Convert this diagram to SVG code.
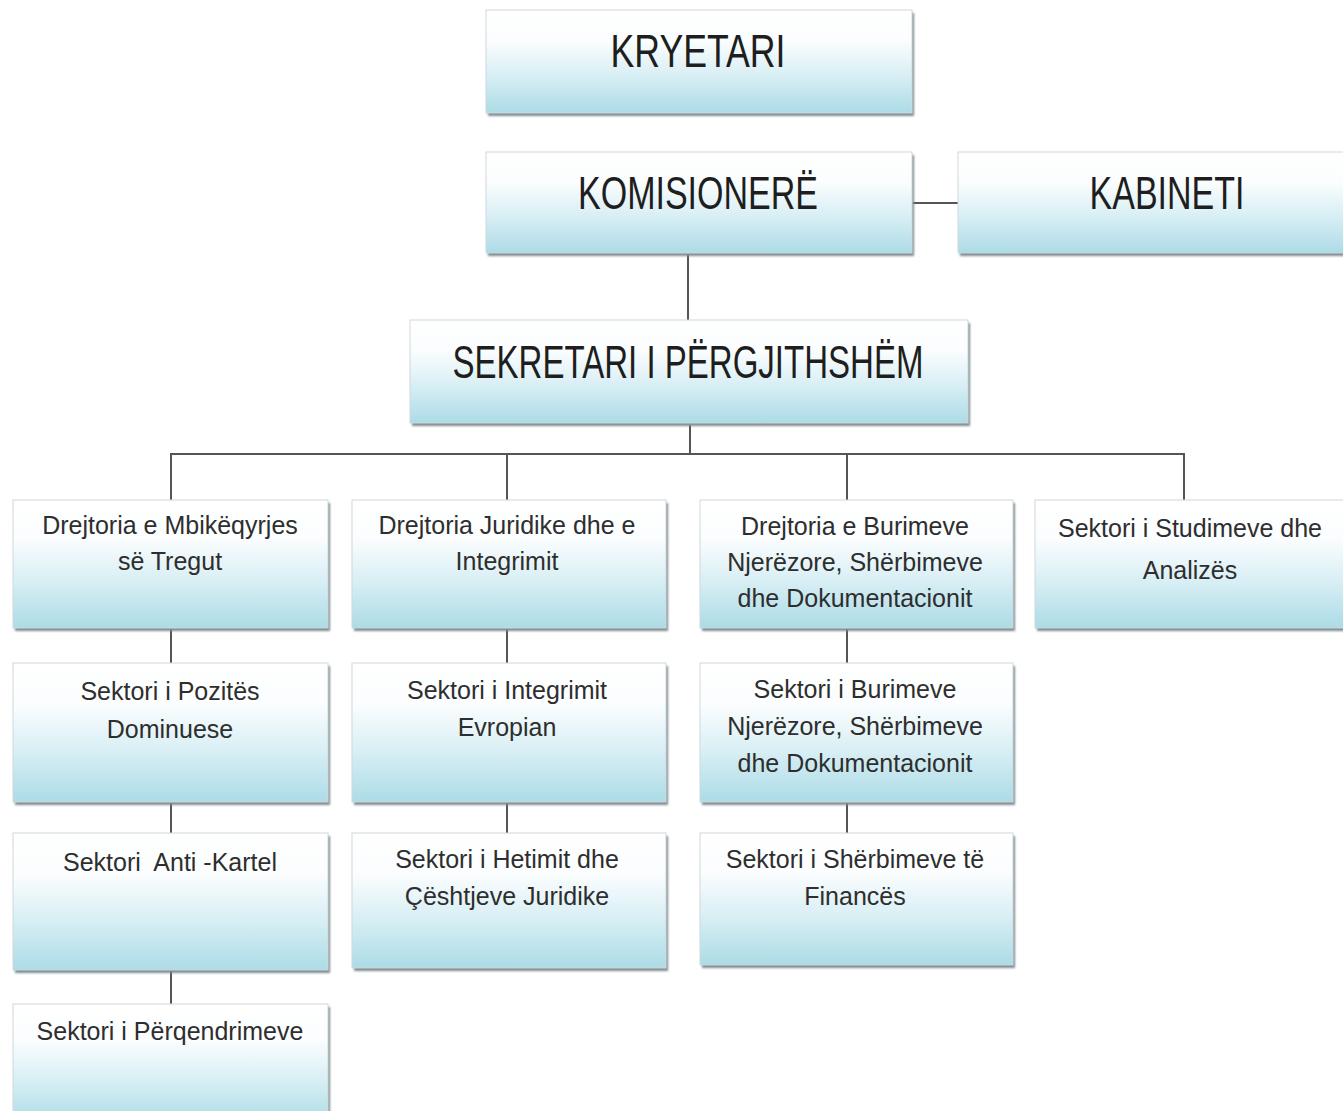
<svg xmlns="http://www.w3.org/2000/svg" width="1343" height="1111" viewBox="0 0 1343 1111">
<defs>
<linearGradient id="g" x1="0" y1="0" x2="0" y2="1">
<stop offset="0" stop-color="#ffffff"/>
<stop offset="0.3" stop-color="#fbfdfe"/>
<stop offset="0.65" stop-color="#d6eef4"/>
<stop offset="1" stop-color="#acdbe6"/>
</linearGradient>
<filter id="sh" x="-5%" y="-5%" width="110%" height="120%">
<feGaussianBlur stdDeviation="1.2"/>
</filter>
</defs>
<style>
.bx{fill:url(#g);stroke:#cfd8dc;stroke-width:1}
.sd{fill:#7e8c92;filter:url(#sh)}
.big{font-family:"Liberation Sans",Arial,sans-serif;font-size:46px;fill:#1e1e1e;text-anchor:middle}
.t{font-family:"Liberation Sans",Arial,sans-serif;font-size:25px;fill:#2e2e2e;text-anchor:middle}
.c{stroke:#555;stroke-width:2;fill:none}
</style>
<rect width="1343" height="1111" fill="#ffffff"/>

<g id="connectors">
<line class="c" x1="912" y1="203" x2="958" y2="203"/>
<line class="c" x1="688" y1="253" x2="688" y2="320"/>
<line class="c" x1="690" y1="425" x2="690" y2="454"/>
<line class="c" x1="170" y1="454" x2="1185" y2="454"/>
<line class="c" x1="171" y1="454" x2="171" y2="500"/>
<line class="c" x1="507" y1="454" x2="507" y2="500"/>
<line class="c" x1="847" y1="454" x2="847" y2="500"/>
<line class="c" x1="1184" y1="454" x2="1184" y2="500"/>
<line class="c" x1="171" y1="628" x2="171" y2="663"/>
<line class="c" x1="507" y1="628" x2="507" y2="663"/>
<line class="c" x1="847" y1="628" x2="847" y2="663"/>
<line class="c" x1="171" y1="802" x2="171" y2="833"/>
<line class="c" x1="507" y1="802" x2="507" y2="833"/>
<line class="c" x1="847" y1="802" x2="847" y2="833"/>
<line class="c" x1="171" y1="970" x2="171" y2="1004"/>
</g>

<g id="kryetari">
<rect class="sd" x="488" y="13" width="426" height="103"/>
<rect class="bx" x="486" y="10" width="426" height="103"/>
<text class="big" x="698" y="67" textLength="175" lengthAdjust="spacingAndGlyphs">KRYETARI</text>
</g>

<g id="komisionere">
<rect class="sd" x="488" y="155" width="426" height="101"/>
<rect class="bx" x="486" y="152" width="426" height="101"/>
<text class="big" x="698" y="209" textLength="240" lengthAdjust="spacingAndGlyphs">KOMISIONERË</text>
</g>

<g id="kabineti">
<rect class="sd" x="960" y="155" width="400" height="101"/>
<rect class="bx" x="958" y="152" width="400" height="101"/>
<text class="big" x="1167" y="209" textLength="155" lengthAdjust="spacingAndGlyphs">KABINETI</text>
</g>

<g id="sekretari">
<rect class="sd" x="412" y="323" width="558" height="103"/>
<rect class="bx" x="410" y="320" width="558" height="103"/>
<text class="big" x="688" y="378" textLength="471" lengthAdjust="spacingAndGlyphs">SEKRETARI I PËRGJITHSHËM</text>
</g>

<g id="drejtoria-mbikeqyrjes">
<rect class="sd" x="15" y="503" width="315" height="128"/>
<rect class="bx" x="13" y="500" width="315" height="128"/>
<text class="t" x="170" y="534">Drejtoria e Mbikëqyrjes</text>
<text class="t" x="170" y="570">së Tregut</text>
</g>

<g id="drejtoria-juridike">
<rect class="sd" x="354" y="503" width="314" height="128"/>
<rect class="bx" x="352" y="500" width="314" height="128"/>
<text class="t" x="507" y="534">Drejtoria Juridike dhe e</text>
<text class="t" x="507" y="570">Integrimit</text>
</g>

<g id="drejtoria-burimeve">
<rect class="sd" x="702" y="503" width="313" height="128"/>
<rect class="bx" x="700" y="500" width="313" height="128"/>
<text class="t" x="855" y="535">Drejtoria e Burimeve</text>
<text class="t" x="855" y="571">Njerëzore, Shërbimeve</text>
<text class="t" x="855" y="607">dhe Dokumentacionit</text>
</g>

<g id="sektori-studimeve">
<rect class="sd" x="1037" y="503" width="320" height="128"/>
<rect class="bx" x="1035" y="500" width="320" height="128"/>
<text class="t" x="1190" y="537">Sektori i Studimeve dhe</text>
<text class="t" x="1190" y="579">Analizës</text>
</g>

<g id="sektori-pozites">
<rect class="sd" x="15" y="666" width="315" height="139"/>
<rect class="bx" x="13" y="663" width="315" height="139"/>
<text class="t" x="170" y="700">Sektori i Pozitës</text>
<text class="t" x="170" y="738">Dominuese</text>
</g>

<g id="sektori-integrimit">
<rect class="sd" x="354" y="666" width="314" height="139"/>
<rect class="bx" x="352" y="663" width="314" height="139"/>
<text class="t" x="507" y="699">Sektori i Integrimit</text>
<text class="t" x="507" y="736">Evropian</text>
</g>

<g id="sektori-burimeve">
<rect class="sd" x="702" y="666" width="313" height="139"/>
<rect class="bx" x="700" y="663" width="313" height="139"/>
<text class="t" x="855" y="698">Sektori i Burimeve</text>
<text class="t" x="855" y="735">Njerëzore, Shërbimeve</text>
<text class="t" x="855" y="772">dhe Dokumentacionit</text>
</g>

<g id="sektori-anti-kartel">
<rect class="sd" x="15" y="836" width="315" height="137"/>
<rect class="bx" x="13" y="833" width="315" height="137"/>
<text class="t" x="170" y="871" xml:space="preserve">Sektori  Anti -Kartel</text>
</g>

<g id="sektori-hetimit">
<rect class="sd" x="354" y="836" width="314" height="135"/>
<rect class="bx" x="352" y="833" width="314" height="135"/>
<text class="t" x="507" y="868">Sektori i Hetimit dhe</text>
<text class="t" x="507" y="905">Çështjeve Juridike</text>
</g>

<g id="sektori-sherbimeve">
<rect class="sd" x="702" y="836" width="313" height="132"/>
<rect class="bx" x="700" y="833" width="313" height="132"/>
<text class="t" x="855" y="868">Sektori i Shërbimeve të</text>
<text class="t" x="855" y="905">Financës</text>
</g>

<g id="sektori-perqendrimeve">
<rect class="sd" x="15" y="1007" width="315" height="120"/>
<rect class="bx" x="13" y="1004" width="315" height="120"/>
<text class="t" x="170" y="1040">Sektori i Përqendrimeve</text>
</g>
</svg>
